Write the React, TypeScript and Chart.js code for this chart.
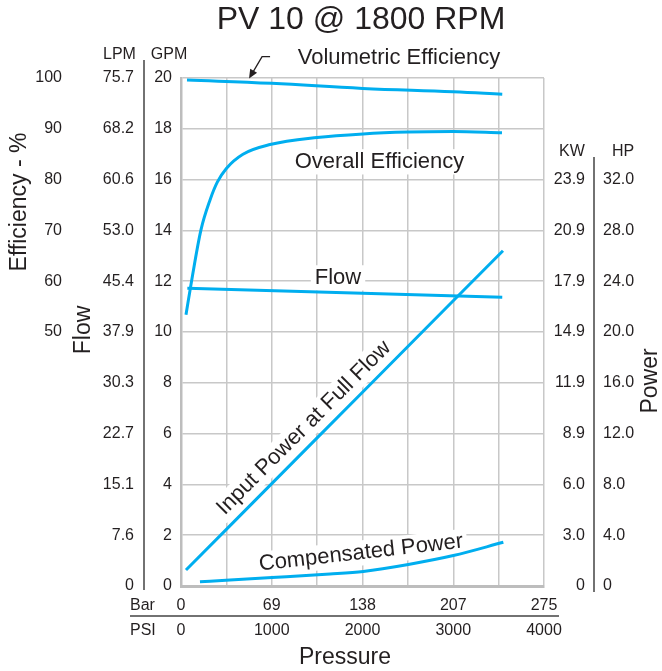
import React, { useEffect, useRef } from "react";
import { Chart, registerables } from "chart.js";

Chart.register(...registerables);

// ---- Data ----
const VOL_EFF_PSI = [66, 1000, 2000, 3000, 3540];
const VOL_EFF_PCT = [99.6, 98.95, 97.95, 97.3, 96.8];

const OVR_EFF_PSI = [55, 118, 220, 320, 400, 500, 683, 981, 1499, 2006, 2500, 2997, 3537];
const OVR_EFF_PCT = [53.4, 60.2, 70.1, 76.0, 79.5, 82.2, 85.0, 86.9, 88.3, 89.0, 89.35, 89.45, 89.2];

const FLOW_PSI = [70, 2000, 3540];
const FLOW_GPM = [11.72, 11.53, 11.37];

const INPUT_PSI = [55, 1000, 2000, 3000, 3548];
const INPUT_HP = [1.26, 8.06, 15.26, 22.46, 26.4];

const COMP_PSI = [209, 540, 1003, 1642, 2009, 2505, 3001, 3552];
const COMP_HP = [0.34, 0.47, 0.66, 0.94, 1.15, 1.7, 2.4, 3.44];

const PSI_TICKS = [0, 1000, 2000, 3000, 4000];
const PSI_LABELS = ["0", "1000", "2000", "3000", "4000"];
const BAR_LABELS = ["0", "69", "138", "207", "275"];
const GPM_TICKS = [0, 2, 4, 6, 8, 10, 12, 14, 16, 18, 20];
const GPM_LABELS = ["0", "2", "4", "6", "8", "10", "12", "14", "16", "18", "20"];
const LPM_LABELS = ["0", "7.6", "15.1", "22.7", "30.3", "37.9", "45.4", "53.0", "60.6", "68.2", "75.7"];
const EFF_TICKS = [50, 60, 70, 80, 90, 100];
const EFF_LABELS = ["50", "60", "70", "80", "90", "100"];
const HP_TICKS = [0, 4, 8, 12, 16, 20, 24, 28, 32];
const HP_LABELS = ["0", "4.0", "8.0", "12.0", "16.0", "20.0", "24.0", "28.0", "32.0"];
const KW_LABELS = ["0", "3.0", "6.0", "8.9", "11.9", "14.9", "17.9", "20.9", "23.9"];

const FONT = '"Liberation Sans", Arial, Helvetica, sans-serif';
const TXT = "#231f20";
const LINE = "#00aeef";

const pts = (xs: number[], ys: number[]) => xs.map((x, i) => ({ x, y: ys[i] }));

function text(
  ctx: CanvasRenderingContext2D,
  s: string,
  x: number,
  y: number,
  size: number,
  align: CanvasTextAlign = "center",
  angle = 0,
  box = false
) {
  ctx.save();
  ctx.translate(x, y);
  ctx.rotate(angle);
  ctx.font = `${size}px ${FONT}`;
  if (box) {
    const w = ctx.measureText(s).width + 8;
    const h = size * 1.15;
    ctx.fillStyle = "#ffffff";
    ctx.fillRect(-w / 2, -h / 2, w, h);
  }
  ctx.fillStyle = TXT;
  ctx.textAlign = align;
  ctx.textBaseline = "middle";
  ctx.fillText(s, 0, 0);
  ctx.restore();
}

const labelsPlugin = {
  id: "pvLabels",
  beforeDatasetsDraw(chart: any) {
    const { ctx, scales } = chart;
    const x = scales.x, y = scales.y, yE = scales.yEff, yH = scales.yHP;
    // in-plot labels with white boxes
    text(ctx, "Overall Efficiency", x.getPixelForValue(2187), yE.getPixelForValue(83.5), 22, "center", 0, true);
    text(ctx, "Flow", x.getPixelForValue(1730), y.getPixelForValue(12.13), 22, "center", 0, true);
    text(ctx, "Input Power at Full Flow", x.getPixelForValue(1355), y.getPixelForValue(6.22), 22, "center", -Math.PI / 4, true);
    text(ctx, "Compensated Power", x.getPixelForValue(1984), yH.getPixelForValue(2.6), 22, "center", -0.113, true);
  },
  afterDraw(chart: any) {
    const { ctx, scales, chartArea } = chart;
    const x = scales.x, y = scales.y, yE = scales.yEff, yH = scales.yHP;

    // Title
    text(ctx, "PV 10 @ 1800 RPM", 361, 20, 32);

    // Left axes
    text(ctx, "LPM", 119.5, 55, 16);
    text(ctx, "GPM", 169, 55, 16);
    EFF_TICKS.forEach((v, i) => text(ctx, EFF_LABELS[i], 62, yE.getPixelForValue(v), 16, "right"));
    GPM_TICKS.forEach((v, i) => {
      text(ctx, LPM_LABELS[i], 134, y.getPixelForValue(v), 16, "right");
      text(ctx, GPM_LABELS[i], 172, y.getPixelForValue(v), 16, "right");
    });
    ctx.save();
    ctx.strokeStyle = "#444";
    ctx.lineWidth = 1.5;
    ctx.beginPath();
    ctx.moveTo(144, 60);
    ctx.lineTo(144, chartArea.bottom + 4);
    ctx.moveTo(594, 157);
    ctx.lineTo(594, chartArea.bottom + 6);
    ctx.moveTo(130, 616);
    ctx.lineTo(559, 616);
    ctx.stroke();
    ctx.restore();

    // Right axes
    text(ctx, "KW", 572, 152, 16);
    text(ctx, "HP", 623, 152, 16);
    HP_TICKS.forEach((v, i) => {
      text(ctx, KW_LABELS[i], 585, yH.getPixelForValue(v), 16, "right");
      text(ctx, HP_LABELS[i], 603, yH.getPixelForValue(v), 16, "left");
    });

    // Bottom axes
    text(ctx, "Bar", 130, 606, 16, "left");
    text(ctx, "PSI", 130, 631, 16, "left");
    PSI_TICKS.forEach((v, i) => {
      text(ctx, BAR_LABELS[i], x.getPixelForValue(v), 606, 16);
      text(ctx, PSI_LABELS[i], x.getPixelForValue(v), 631, 16);
    });

    // Axis titles
    text(ctx, "Efficiency - %", 20, 202, 23, "center", -Math.PI / 2);
    text(ctx, "Flow", 84, 330, 23, "center", -Math.PI / 2);
    text(ctx, "Power", 651, 381, 23, "center", -Math.PI / 2);
    text(ctx, "Pressure", 345, 658, 23);

    // Volumetric Efficiency label + arrow
    text(ctx, "Volumetric Efficiency", x.getPixelForValue(2402), chartArea.top - 20, 22);
    const tipX = x.getPixelForValue(750);
    const tipY = yE.getPixelForValue(99.3) - 3;
    ctx.save();
    ctx.strokeStyle = "#231f20";
    ctx.fillStyle = "#231f20";
    ctx.lineWidth = 1.3;
    ctx.beginPath();
    ctx.moveTo(tipX + 21, tipY - 22);
    ctx.lineTo(tipX + 13, tipY - 22);
    ctx.lineTo(tipX + 3, tipY - 5);
    ctx.stroke();
    const ang = Math.atan2(17, -10);
    ctx.translate(tipX, tipY);
    ctx.rotate(ang);
    ctx.beginPath();
    ctx.moveTo(0, 0);
    ctx.lineTo(-9, -4);
    ctx.lineTo(-9, 4);
    ctx.closePath();
    ctx.fill();
    ctx.restore();
  },
};

export default function App() {
  const ref = useRef<HTMLCanvasElement>(null);
  useEffect(() => {
    if (!ref.current) return;
    const ds = (data: any[], yAxisID: string, extra: any = {}) => ({
      data,
      yAxisID,
      borderColor: LINE,
      borderWidth: 3,
      pointRadius: 0,
      fill: false,
      tension: 0.4,
      ...extra,
    });
    const chart = new Chart(ref.current, {
      type: "line",
      data: {
        datasets: [
          ds(pts(VOL_EFF_PSI, VOL_EFF_PCT), "yEff"),
          ds(pts(OVR_EFF_PSI, OVR_EFF_PCT), "yEff", { cubicInterpolationMode: "monotone" }),
          ds(pts(FLOW_PSI, FLOW_GPM), "y"),
          ds(pts(INPUT_PSI, INPUT_HP), "yHP"),
          ds(pts(COMP_PSI, COMP_HP), "yHP", { cubicInterpolationMode: "monotone" }),
        ] as any,
      },
      options: {
        animation: false,
        responsive: false,
        layout: { padding: { left: 181, right: 118, top: 78, bottom: 85 } },
        plugins: { legend: { display: false }, tooltip: { enabled: false }, title: { display: false } },
        scales: {
          x: {
            type: "linear",
            min: 0,
            max: 4000,
            ticks: { display: false, stepSize: 500 },
            grid: { color: "#c8c8c8", lineWidth: 1.5, drawTicks: false },
            border: { color: "#bdbdbd", width: 3 },
          },
          y: {
            type: "linear",
            min: 0,
            max: 20,
            ticks: { display: false, stepSize: 2 },
            grid: { color: "#c8c8c8", lineWidth: 1.5, drawTicks: false },
            border: { color: "#bdbdbd", width: 2.5 },
          },
          yEff: { type: "linear", display: false, min: 0, max: 100 },
          yHP: { type: "linear", display: false, min: 0, max: 40 },
        },
      } as any,
      plugins: [labelsPlugin],
    });
    return () => chart.destroy();
  }, []);
  return (
    <div style={{ position: "absolute", left: 0, top: 0, width: 662, height: 671, background: "#fff" }}>
      <canvas ref={ref} width={662} height={671} />
    </div>
  );
}
